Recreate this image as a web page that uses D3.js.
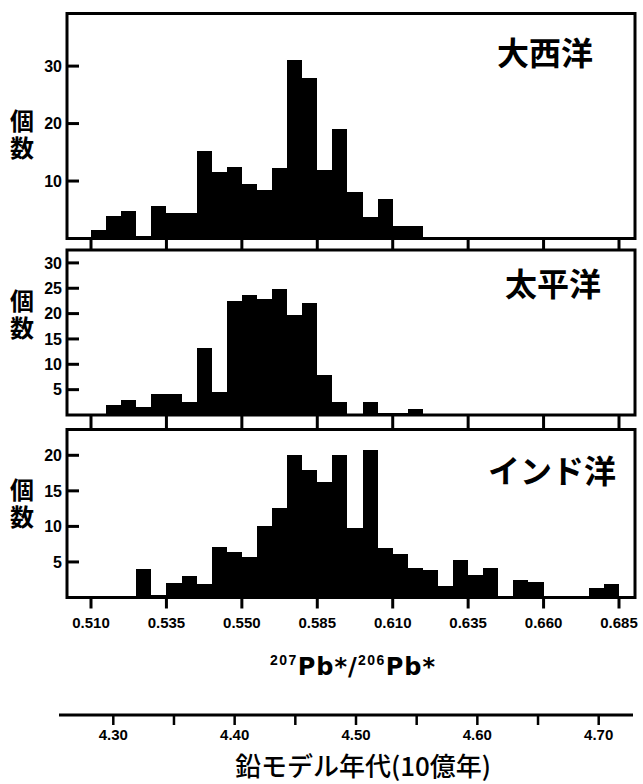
<!DOCTYPE html>
<html>
<head>
<meta charset="utf-8">
<script src="https://cdn.jsdelivr.net/npm/d3@7"></script>
<style>
  body { margin: 0; background: #fff; }
  svg { display: block; }
</style>
</head>
<body>
<div id="chart"></div>
<script>

//
// data
//
var binStart = 0.510,
    binWidth = 0.005;

// counts per 0.005 bin, starting at 0.510
var atlantic = [1.5, 3.9, 4.7, 0.5, 5.65, 4.5, 4.5, 15.3, 11.5, 12.5, 9.4, 8.5, 12.25, 31.1, 28.0, 12.0, 19.0, 8.1, 3.8, 6.8, 2.2, 2.2, 0, 0, 0, 0, 0, 0, 0, 0, 0, 0, 0, 0, 0];
var pacific  = [0, 2.0, 2.9, 1.5, 4.2, 4.2, 2.65, 13.25, 4.6, 22.5, 23.7, 22.8, 24.9, 19.8, 22.1, 7.95, 2.5, 0, 2.65, 0.3, 0.3, 1.1, 0, 0, 0, 0, 0, 0, 0, 0, 0, 0, 0, 0, 0];
var indian   = [0, 0, 0, 4.0, 0.3, 2.0, 3.0, 1.9, 7.1, 6.4, 5.7, 10.0, 12.6, 20.0, 18.0, 16.2, 20.0, 9.8, 20.8, 6.9, 6.1, 4.2, 3.9, 1.6, 5.3, 3.1, 4.2, 0, 2.5, 2.15, 0, 0, 0, 1.4, 1.9];

var oceanNames = ["大西洋", "太平洋", "インド洋"];

var atlanticTicks = [10, 20, 30];
var pacificTicks  = [5, 10, 15, 20, 25, 30];
var indianTicks   = [5, 10, 15, 20];

var xTicks      = [0.510, 0.535, 0.560, 0.585, 0.610, 0.635, 0.660, 0.685];
var xTickLabels = ["0.510", "0.535", "0.550", "0.585", "0.610", "0.635", "0.660", "0.685"];

var ageTicks      = [4.30, 4.40, 4.50, 4.60, 4.70];
var ageMinorTicks = [4.35, 4.45, 4.55, 4.65];

var yLabel   = "個数";
var ageTitle = "鉛モデル年代(10億年)";


//
// setup
//
var width = 643,
    height = 784,
    left = 67,
    right = 635;

var latin = "'Liberation Sans', Arial, sans-serif",
    cjk = "'Noto Sans CJK JP', 'Noto Sans CJK SC', sans-serif";

var svg = d3.select("#chart")
    .append("svg")
    .attr("width", width)
    .attr("height", height);

var x = d3.scaleLinear()
    .domain([0.510, 0.685])
    .range([91, 619]);

// one entry per panel; y scales start at the frame bottom
var panels = [
  { name: oceanNames[0], data: atlantic, ticks: atlanticTicks, top: 13.5, bottom: 238.5,
    y: d3.scaleLinear().domain([0, 30]).range([238.5, 66.1]), nameY: 64.5, nameX: 593, labelY: 109 },
  { name: oceanNames[1], data: pacific, ticks: pacificTicks, top: 250, bottom: 415,
    y: d3.scaleLinear().domain([0, 30]).range([415, 262.9]), nameY: 296, nameX: 601, labelY: 289 },
  { name: oceanNames[2], data: indian, ticks: indianTicks, top: 429.5, bottom: 597.5,
    y: d3.scaleLinear().domain([0, 20]).range([597.5, 455.3]), nameY: 483, nameX: 616, labelY: 478 }
];

panels.forEach(drawPanel);


//
// ticks between the panels and below the last one
//
var tickG = svg.append("g")
    .attr("stroke", "#000")
    .attr("stroke-width", 3);

[[panels[0].bottom, panels[1].top], [panels[1].bottom, panels[2].top], [panels[2].bottom, panels[2].bottom + 11]]
  .forEach(function(span) {
    tickG.selectAll(null)
      .data(xTicks)
      .enter()
      .append("line")
      .attr("x1", function(d) { return x(d) })
      .attr("x2", function(d) { return x(d) })
      .attr("y1", span[0])
      .attr("y2", span[1]);
  });

svg.append("g").selectAll("text")
    .data(xTicks)
    .enter()
    .append("text")
    .attr("x", function(d) { return x(d) })
    .attr("y", 628)
    .attr("text-anchor", "middle")
    .style("font", "bold 15px " + latin)
    .text(function(d, i) { return xTickLabels[i] });


//
// x axis title  207Pb*/206Pb*
//
var xt = svg.append("text")
    .attr("x", 353)
    .attr("y", 674.5)
    .attr("text-anchor", "middle")
    .style("font-weight", "bold");

[["207", true], ["Pb*/", false], ["206", true], ["Pb*", false]].forEach(function(p, i) {
  xt.append("tspan")
    .attr("dy", i == 0 ? -9.5 : (p[1] ? -9.5 : 9.5))
    .style("font-size", p[1] ? "14px" : "24px")
    .style("font-family", p[1] ? latin : "'DejaVu Sans', sans-serif")
    .style("letter-spacing", p[1] ? "1.5px" : "1px")
    .text(p[0]);
});


//
// lead model age axis
//
var age = d3.scaleLinear()
    .domain([4.30, 4.70])
    .range([113.3, 598.7]);

var ageG = svg.append("g")
    .attr("stroke", "#000");

ageG.append("line")
    .attr("x1", 59)
    .attr("x2", 633)
    .attr("y1", 715)
    .attr("y2", 715)
    .attr("stroke-width", 3);

ageG.selectAll("line.tick")
    .data(ageTicks.concat(ageMinorTicks))
    .enter()
    .append("line")
    .attr("class", "tick")
    .attr("x1", function(d) { return age(d) })
    .attr("x2", function(d) { return age(d) })
    .attr("y1", 715)
    .attr("y2", 725)
    .attr("stroke-width", 2.5);

svg.append("g").selectAll("text")
    .data(ageTicks)
    .enter()
    .append("text")
    .attr("x", function(d) { return age(d) })
    .attr("y", 740)
    .attr("text-anchor", "middle")
    .style("font", "bold 15px " + latin)
    .text(function(d) { return d.toFixed(2) });

svg.append("text")
    .attr("x", 363)
    .attr("y", 776)
    .attr("text-anchor", "middle")
    .style("font", "500 26px " + cjk)
    .text(ageTitle);



//
// panel function
//
function drawPanel(p) {
  var g = svg.append("g");

  // bars
  g.selectAll("rect.bar")
    .data(p.data.map(function(v, i) { return { i: i, v: v } }).filter(function(d) { return d.v > 0 }))
    .enter()
    .append("rect")
    .attr("class", "bar")
    .attr("x", function(d) { return x(binStart + d.i * binWidth) })
    .attr("width", function(d) { return x(binStart + (d.i + 1) * binWidth) - x(binStart + d.i * binWidth) })
    .attr("y", function(d) { return p.y(d.v) })
    .attr("height", function(d) { return p.bottom - p.y(d.v) })
    .attr("fill", "#000")
    .attr("shape-rendering", "crispEdges");

  // frame
  g.append("rect")
    .attr("x", left)
    .attr("y", p.top)
    .attr("width", right - left)
    .attr("height", p.bottom - p.top)
    .attr("fill", "none")
    .attr("stroke", "#000")
    .attr("stroke-width", 3);

  // y ticks, pointing inwards
  g.selectAll("line.ytick")
    .data(p.ticks)
    .enter()
    .append("line")
    .attr("class", "ytick")
    .attr("x1", left)
    .attr("x2", left + 12)
    .attr("y1", function(d) { return p.y(d) })
    .attr("y2", function(d) { return p.y(d) })
    .attr("stroke", "#000")
    .attr("stroke-width", 3);

  g.selectAll("text.ylab")
    .data(p.ticks)
    .enter()
    .append("text")
    .attr("class", "ylab")
    .attr("x", 62)
    .attr("y", function(d) { return p.y(d) })
    .attr("dy", "0.36em")
    .attr("text-anchor", "end")
    .style("font", "bold 16px " + latin)
    .text(function(d) { return d });

  // ocean name
  g.append("text")
    .attr("x", p.nameX)
    .attr("y", p.nameY)
    .attr("text-anchor", "end")
    .style("font", "bold 32px " + cjk)
    .text(p.name);

  // 個数, written top to bottom
  g.append("text")
    .attr("x", 22)
    .attr("y", p.labelY)
    .style("writing-mode", "vertical-rl")
    .style("letter-spacing", "3px")
    .style("font", "bold 24px " + cjk)
    .text(yLabel);
}

</script>
</body>
</html>
